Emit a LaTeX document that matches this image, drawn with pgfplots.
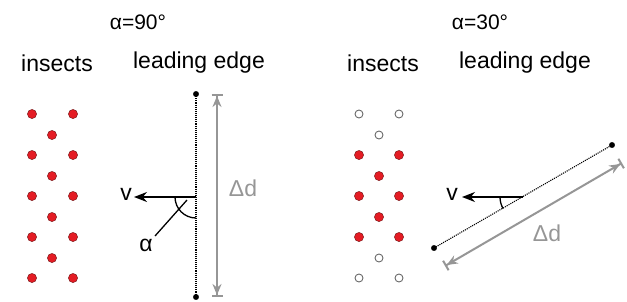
\documentclass[border=0pt]{standalone}
\usepackage{pgfplots}
\pgfplotsset{compat=1.18}
\usetikzlibrary{arrows.meta}
\usepackage{fontspec}
\setmainfont{Liberation Sans}
\definecolor{dotred}{RGB}{228,28,36}
\definecolor{dotedge}{RGB}{110,20,20}
\definecolor{gr}{RGB}{150,150,150}
\definecolor{opengr}{RGB}{105,105,105}
\tikzset{lbl/.style={font=\fontsize{23}{27}\selectfont, inner sep=0pt},
         ttl/.style={font=\fontsize{21}{25}\selectfont, inner sep=0pt}}
\begin{document}
\begin{tikzpicture}
\begin{axis}[
  width=627pt, height=301pt, scale only axis,
  xmin=0, xmax=627, ymin=0, ymax=301, y dir=reverse,
  hide axis, clip=false,
]
\coordinate (BL) at (axis cs:0,301);
\coordinate (TR) at (axis cs:627,0);
% ---------- left panel ----------
\node[ttl] at (axis cs:138,22) {α=90°};
\node[lbl] at (axis cs:57,63) {insects};
\node[lbl] at (axis cs:199,63) {leading edge};
% red dots
\addplot[only marks, mark=*, mark size=4.6pt, mark options={fill=dotred, draw=dotedge, line width=0.4pt}]
 coordinates {(32,114)(73,114)(52,135)(32,155)(73,155)(52,176)(32,196)(73,196)(52,217)(32,237)(73,237)(52,258)(32,278)(73,278)};
% leading edge
\addplot[black, densely dotted, line width=1.1pt] coordinates {(196,94)(196,297)};
\addplot[only marks, mark=*, mark size=2.7pt, black] coordinates {(196,94)(196,297)};
% delta d
\addplot[gr, line width=2pt, {Bar[width=11pt]Stealth[length=11pt,width=9pt]}-{Stealth[length=11pt,width=9pt]Bar[width=11pt]}]
 coordinates {(217,94)(217,297)};
\node[lbl, text=gr] at (axis cs:243,188) {Δd};
% velocity
\addplot[black, line width=1.6pt, -{Stealth[length=13pt,width=10pt]}] coordinates {(196,197)(134,197)};
\node[lbl] at (axis cs:126,194) {v};
\draw[black, line width=1.3pt] (axis cs:175,197) arc[start angle=180, end angle=270, radius=21pt];
\addplot[black, line width=1.3pt] coordinates {(187,200)(155,236)};
\node[lbl] at (axis cs:146,245) {α};
% ---------- right panel ----------
\node[ttl] at (axis cs:480,22) {α=30°};
\node[lbl] at (axis cs:383,63) {insects};
\node[lbl] at (axis cs:525,63) {leading edge};
\addplot[only marks, mark=*, mark size=4.6pt, mark options={fill=dotred, draw=dotedge, line width=0.4pt}]
 coordinates {(359,155)(399,155)(379,176)(359,196)(399,196)(379,217)(359,237)(399,237)};
\addplot[only marks, mark=o, mark size=4pt, mark options={draw=opengr, fill=white, line width=0.9pt}]
 coordinates {(359,114)(399,114)(379,135)(379,258)(359,278)(399,278)};
\addplot[black, densely dotted, line width=1.1pt] coordinates {(434,248)(612,145)};
\addplot[only marks, mark=*, mark size=2.7pt, black] coordinates {(434,248)(612,145)};
\addplot[gr, line width=2pt, {Bar[width=11pt]Stealth[length=11pt,width=9pt]}-{Stealth[length=11pt,width=9pt]Bar[width=11pt]}]
 coordinates {(445,266)(622,163)};
\node[lbl, text=gr] at (axis cs:547,233) {Δd};
\addplot[black, line width=1.6pt, -{Stealth[length=13pt,width=10pt]}] coordinates {(523,197)(462,197)};
\node[lbl] at (axis cs:452,194) {v};
\draw[black, line width=1.3pt] (axis cs:500,197) arc[start angle=180, end angle=210, radius=23pt];
\end{axis}
\pgfresetboundingbox
\path[use as bounding box] (BL) rectangle (TR);
\end{tikzpicture}
\end{document}
